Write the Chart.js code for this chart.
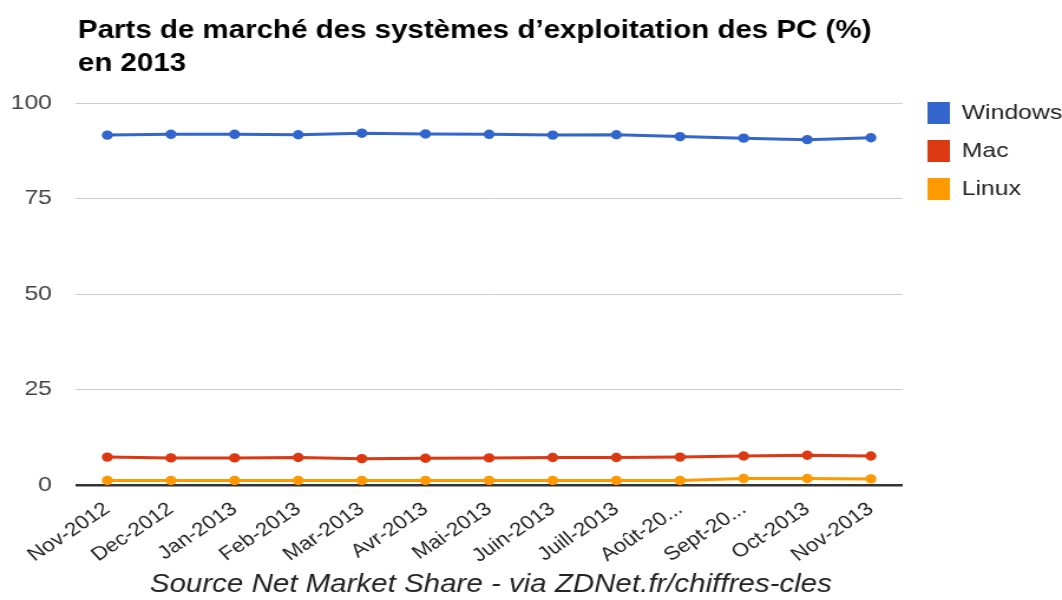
<!DOCTYPE html>
<html><head><meta charset="utf-8">
<script src="https://cdn.jsdelivr.net/npm/chart.js@4/dist/chart.umd.min.js"></script>
<style>
html,body{margin:0;padding:0;background:#fff;overflow:hidden}
#wrap{width:900px;height:600px;position:relative;transform:scaleX(1.18);transform-origin:0 0}
canvas{display:block}
</style>
</head><body><div id="wrap"><canvas id="c" width="900" height="600" style="width:900px;height:600px"></canvas></div>
<script>
const titleLines = ["Parts de marché des systèmes d\u2019exploitation des PC (%)", "en 2013"];
const sourceText = "Source Net Market Share - via ZDNet.fr/chiffres-cles";
const categories = ["Nov-2012","Dec-2012","Jan-2013","Feb-2013","Mar-2013","Avr-2013","Mai-2013","Juin-2013","Juill-2013","Ao\u00fbt-20...","Sept-20...","Oct-2013","Nov-2013"];
const windowsShare = [91.6, 91.8, 91.8, 91.7, 92.1, 91.9, 91.8, 91.6, 91.7, 91.2, 90.8, 90.4, 90.9];
const macShare = [7.3, 7.1, 7.1, 7.2, 6.9, 7.0, 7.1, 7.2, 7.2, 7.3, 7.6, 7.8, 7.6];
const linuxShare = [1.2, 1.2, 1.2, 1.2, 1.2, 1.2, 1.2, 1.2, 1.2, 1.2, 1.7, 1.7, 1.6];
const yTicks = [0, 25, 50, 75, 100];

const seriesNames = ["Windows","Mac","Linux"];
const seriesColors = ["#3366cc","#dc3912","#ff9900"];
const seriesData = [windowsShare, macShare, linuxShare];

const FONT = '"Liberation Sans", Arial, sans-serif';

const decor = {
  id: 'decor',
  afterDraw(chart) {
    const ctx = chart.ctx;
    ctx.save();
    ctx.fillStyle = '#000';
    ctx.font = 'bold 25px ' + FONT;
    ctx.textBaseline = 'middle';
    ctx.textAlign = 'left';
    ctx.fillText(titleLines[0], 66, 31);
    ctx.fillText(titleLines[1], 66, 64);
    chart.data.datasets.forEach((ds, i) => {
      const y = 113 + i * 38;
      ctx.fillStyle = ds.borderColor;
      ctx.fillRect(786, y - 11, 19, 22);
      ctx.fillStyle = '#222';
      ctx.font = '21px ' + FONT;
      ctx.fillText(ds.label, 815, y);
    });
    ctx.font = 'italic 25px ' + FONT;
    ctx.textAlign = 'center';
    ctx.fillStyle = '#222';
    ctx.fillText(sourceText, 416, 585);
    ctx.restore();
  }
};

new Chart(document.getElementById('c'), {
  type: 'line',
  data: {
    labels: categories,
    datasets: seriesData.map((d, i) => ({
      label: seriesNames[i],
      data: d,
      borderColor: seriesColors[i],
      backgroundColor: seriesColors[i],
      borderWidth: 3,
      pointRadius: 3.2,
      pointHoverRadius: 3.2,
      tension: 0,
      order: i
    }))
  },
  options: {
    responsive: false,
    animation: false,
    devicePixelRatio: 1,
    layout: { padding: { top: 103, left: 0, right: 135, bottom: 0 } },
    plugins: { legend: { display: false }, title: { display: false }, tooltip: { enabled: false } },
    scales: {
      x: {
        offset: true,
        grid: { display: false, drawTicks: false },
        border: { display: false },
        ticks: {
          minRotation: 38, maxRotation: 38, autoSkip: false, padding: 13,
          color: '#222',
          font: { family: FONT, size: 19 }
        },
        afterFit(s) { s.height = 115; }
      },
      y: {
        min: 0, max: 100,
        afterBuildTicks(s) { s.ticks = yTicks.map(v => ({ value: v })); },
        grid: {
          drawTicks: false,
          color: (c) => c.tick && c.tick.value === 0 ? '#333' : '#cccccc',
          lineWidth: (c) => c.tick && c.tick.value === 0 ? 2.5 : 1
        },
        border: { display: false },
        ticks: {
          padding: 20, color: '#444',
          font: { family: FONT, size: 21 }
        },
        afterFit(s) { s.width = 64; }
      }
    }
  },
  plugins: [decor]
});
</script></body></html>
